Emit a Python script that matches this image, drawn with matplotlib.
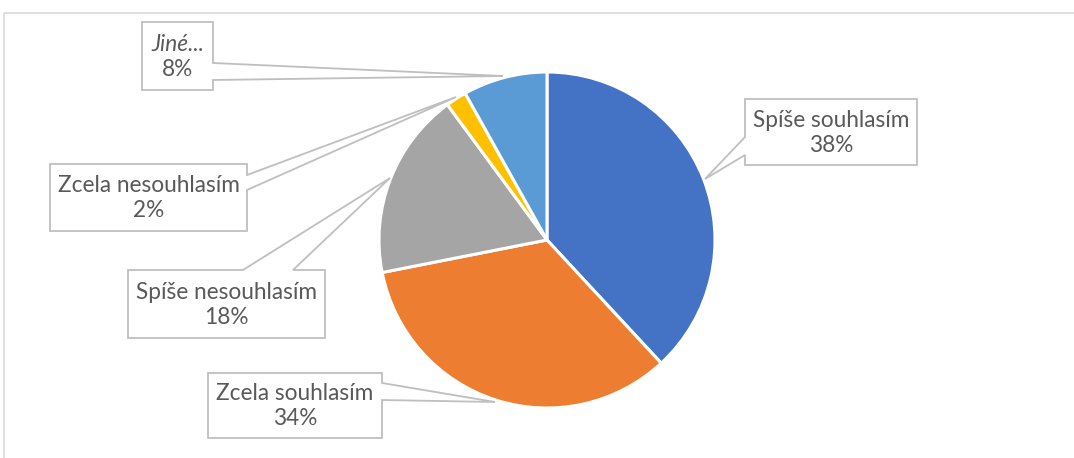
import matplotlib
matplotlib.use("Agg")
import matplotlib.pyplot as plt
from matplotlib.patches import Polygon, Rectangle

categories = ["Spíše souhlasím", "Zcela souhlasím", "Spíše nesouhlasím", "Zcela nesouhlasím", "Jiné"]
values = [38.1, 33.8, 18.0, 2.0, 8.1]
pct_labels = ["38%", "34%", "18%", "2%", "8%"]
colors = ["#4472C4", "#ED7D31", "#A5A5A5", "#FFC000", "#5B9BD5"]

W, H = 1074, 458
fig = plt.figure(figsize=(W / 100, H / 100), dpi=100)
ax = fig.add_axes([0, 0, 1, 1])
ax.set_xlim(0, W)
ax.set_ylim(0, H)
ax.set_aspect("equal")
ax.axis("off")

def Y(y):
    return H - y

# chart frame
ax.add_patch(Rectangle((4, Y(470)), 1100, 457, fill=False, edgecolor="#D9D9D9", lw=1.2, zorder=0))

ax.pie(values, colors=colors, startangle=90, counterclock=False,
       center=(547, Y(240)), radius=168,
       wedgeprops=dict(edgecolor="white", linewidth=2.2), frame=True)
ax.set_xlim(0, W)
ax.set_ylim(0, H)
ax.axis("off")

callouts = {
    "Jiné": [(142, 22), (213, 22), (213, 63), (503, 76), (213, 80), (213, 90), (142, 90)],
    "Zcela nesouhlasím": [(50, 164), (247, 164), (247, 175), (456, 97), (247, 190), (247, 231), (50, 231)],
    "Spíše nesouhlasím": [(128, 270), (243, 270), (390, 178), (293, 270), (325, 270), (325, 338), (128, 338)],
    "Zcela souhlasím": [(208, 373), (382, 373), (382, 383), (495, 402), (382, 400), (382, 438), (208, 438)],
    "Spíše souhlasím": [(745, 99), (917, 99), (917, 165), (745, 165), (745, 155), (705, 179), (745, 137)],
}
boxes = {
    "Jiné": (142, 22, 213, 90),
    "Zcela nesouhlasím": (50, 164, 247, 231),
    "Spíše nesouhlasím": (128, 270, 325, 338),
    "Zcela souhlasím": (208, 373, 382, 438),
    "Spíše souhlasím": (745, 99, 917, 165),
}

txt_color = "#595959"
fs = 16.3
font = "Lato"
for cat, pct in zip(categories, pct_labels):
    pts = [(x, Y(y)) for x, y in callouts[cat]]
    ax.add_patch(Polygon(pts, closed=True, facecolor="white", edgecolor="#BFBFBF", lw=1.3, zorder=5))
    x0, y0, x1, y1 = boxes[cat]
    cx = (x0 + x1) / 2
    cy = (y0 + y1) / 2
    name = cat + "..." if cat == "Jiné" else cat
    style = "italic" if cat == "Jiné" else "normal"
    ax.text(cx, Y(cy - 11.5), name, ha="center", va="center", fontsize=fs, color=txt_color,
            family=font, style=style, zorder=6)
    ax.text(cx, Y(cy + 13), pct, ha="center", va="center", fontsize=fs, color=txt_color,
            family=font, zorder=6)

fig.savefig("out.png", dpi=100, facecolor="white")
